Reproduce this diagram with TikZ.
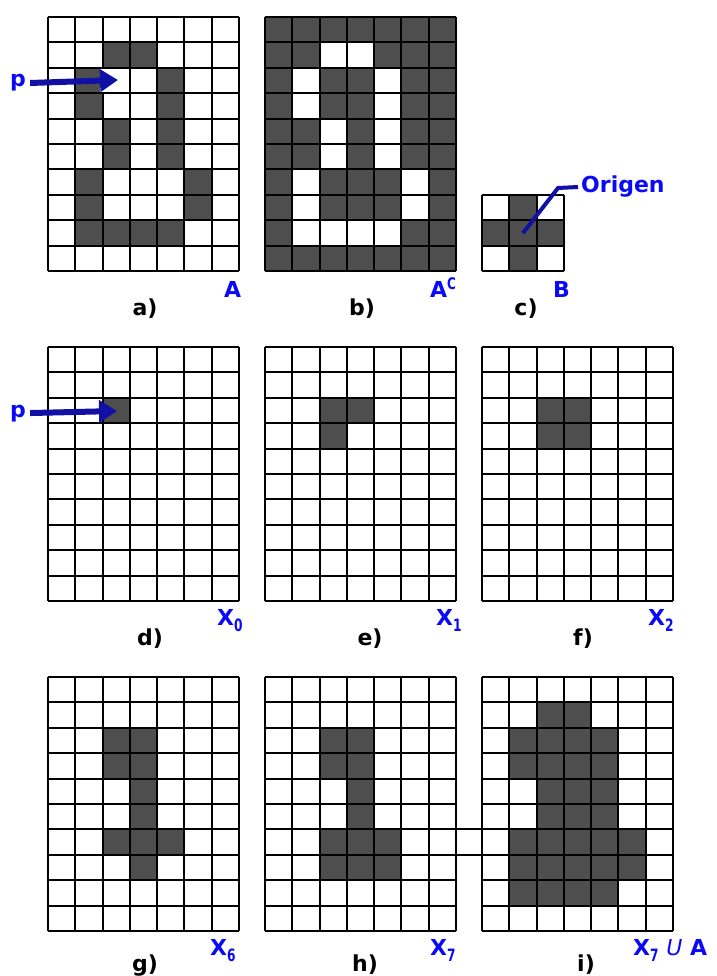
\documentclass[tikz,border=0pt]{standalone}
\usepackage{fontspec}
\setmainfont{DejaVu Sans}
\usetikzlibrary{arrows.meta}
\definecolor{cellgray}{RGB}{78,78,78}
\definecolor{lblblue}{RGB}{10,10,245}
\definecolor{arrblue}{RGB}{16,16,165}
\newcommand{\cw}{27.2857}
\newcommand{\ch}{25.4}
\newcommand{\fillcells}[4]{%
  \foreach \c/\r in {#4} {\fill[#3] ({#1+\c*\cw},{#2+\r*\ch}) rectangle ++(\cw,\ch);}}
\newcommand{\gridlines}[4]{%
  \foreach \i in {0,...,#3} {\draw[gridline] ({#1+\i*\cw},#2) -- ++(0,{#4*\ch});}
  \foreach \j in {0,...,#4} {\draw[gridline] (#1,{#2+\j*\ch}) -- ++({#3*\cw},0);}}
\newcommand{\sbs}[1]{\raisebox{-6pt}{\scalebox{0.72}[1]{\fontsize{17}{17}\selectfont #1}}}
\newcommand{\sps}[1]{\raisebox{8pt}{\scalebox{0.75}[1]{\fontsize{16}{16}\selectfont #1}}}
\begin{document}
\begin{tikzpicture}[x=1pt,y=-1pt,
  gridline/.style={line width=2pt, black, line cap=square},
  lbl/.style={font=\fontsize{22}{26}\selectfont\bfseries, text=black, inner sep=0pt},
  blbl/.style={font=\fontsize{22}{26}\selectfont\bfseries, text=lblblue, inner sep=0pt},
  parrow/.style={draw=arrblue, line width=6pt, -{Triangle[length=18pt,width=22pt]}},
  oline/.style={draw=arrblue, line width=4pt}]
\useasboundingbox (0,0) rectangle (716,976);
% ---------- row 1 ----------
% a) A
\fillcells{48}{17}{cellgray}{2/1,3/1,1/2,4/2,1/3,4/3,2/4,4/4,2/5,4/5,1/6,5/6,1/7,5/7,1/8,2/8,3/8,4/8}
\gridlines{48}{17}{7}{10}
\fill[white] (100,69) rectangle (119,92);
% b) A^C
\fill[cellgray] (265,17) rectangle ++({7*\cw},{10*\ch});
\fillcells{265}{17}{white}{2/1,3/1,1/2,4/2,1/3,4/3,2/4,4/4,2/5,4/5,1/6,5/6,1/7,5/7,1/8,2/8,3/8,4/8}
\gridlines{265}{17}{7}{10}
% c) B
\fillcells{482}{195}{cellgray}{1/0,0/1,1/1,2/1,1/2}
\gridlines{482}{195}{3}{3}
% ---------- row 2 ----------
\fillcells{48}{347}{cellgray}{2/2}
\gridlines{48}{347}{7}{10}
\fillcells{265}{347}{cellgray}{2/2,3/2,2/3}
\gridlines{265}{347}{7}{10}
\fillcells{482}{347}{cellgray}{2/2,3/2,2/3,3/3}
\gridlines{482}{347}{7}{10}
% ---------- row 3 ----------
\fillcells{48}{677}{cellgray}{2/2,3/2,2/3,3/3,3/4,3/5,2/6,3/6,4/6,3/7}
\gridlines{48}{677}{7}{10}
\fillcells{265}{677}{cellgray}{2/2,3/2,2/3,3/3,3/4,3/5,2/6,3/6,4/6,2/7,3/7,4/7}
\gridlines{265}{677}{7}{10}
\fillcells{482}{677}{cellgray}{2/1,3/1,1/2,2/2,3/2,4/2,1/3,2/3,3/3,4/3,2/4,3/4,4/4,2/5,3/5,4/5,1/6,2/6,3/6,4/6,5/6,1/7,2/7,3/7,4/7,5/7,1/8,2/8,3/8,4/8}
\gridlines{482}{677}{7}{10}
\draw[gridline, line cap=butt] (456,{677+6*\ch}) -- (482,{677+6*\ch});
\draw[gridline, line cap=butt] (456,{677+7*\ch}) -- (482,{677+7*\ch});
% ---------- arrows ----------
\node[blbl, anchor=base west] (pA) at (10,87) {p};
\coordinate (tipA) at (118,80);
\draw[parrow, shorten <=4pt] (pA.east) -- (tipA);
\node[blbl, anchor=base west] (pD) at (10,417) {p};
\coordinate (tipD) at (117,411);
\draw[parrow, shorten <=4pt] (pD.east) -- (tipD);
\coordinate (Bc) at ({482+1.5*\cw},{195+1.5*\ch});
\coordinate (bend) at (558,188);
\node[blbl, anchor=west, inner sep=3pt] (org) at (578,187) {Origen};
\draw[oline] (Bc) -- (bend) -- (org.west);
% ---------- labels ----------
\node[lbl, anchor=base] (la) at (145,315) {a)};
\node[lbl, anchor=base] (lb) at (362,315) {b)};
\node[lbl, anchor=base] (lc) at (526,315) {c)};
\node[blbl, anchor=base west] (nA) at (224,297) {A};
\node[blbl, anchor=base west] (nAC) at (430,297) {A\sps{C}};
\node[blbl, anchor=base west] (nB) at (553,297) {B};
\node[lbl, anchor=base] (ld) at (150,645) {d)};
\node[lbl, anchor=base] (le) at (370,645) {e)};
\node[lbl, anchor=base] (lf) at (583,645) {f)};
\node[blbl, anchor=base west] (nX0) at (217,625) {X\sbs{0}};
\node[blbl, anchor=base west] (nX1) at (436,625) {X\sbs{1}};
\node[blbl, anchor=base west] (nX2) at (648,625) {X\sbs{2}};
\node[lbl, anchor=base] (lg) at (145,971) {g)};
\node[lbl, anchor=base] (lh) at (365,971) {h)};
\node[lbl, anchor=base] (li) at (586,971) {i)};
\node[blbl, anchor=base west] (nX6) at (210,955) {X\sbs{6}};
\node[blbl, anchor=base west] (nX7) at (430,955) {X\sbs{7}};
\node[blbl, anchor=base west] (nX7A) at (633,955) {X\sbs{7} {\fontseries{m}\itshape U} A};
\end{tikzpicture}
\end{document}
